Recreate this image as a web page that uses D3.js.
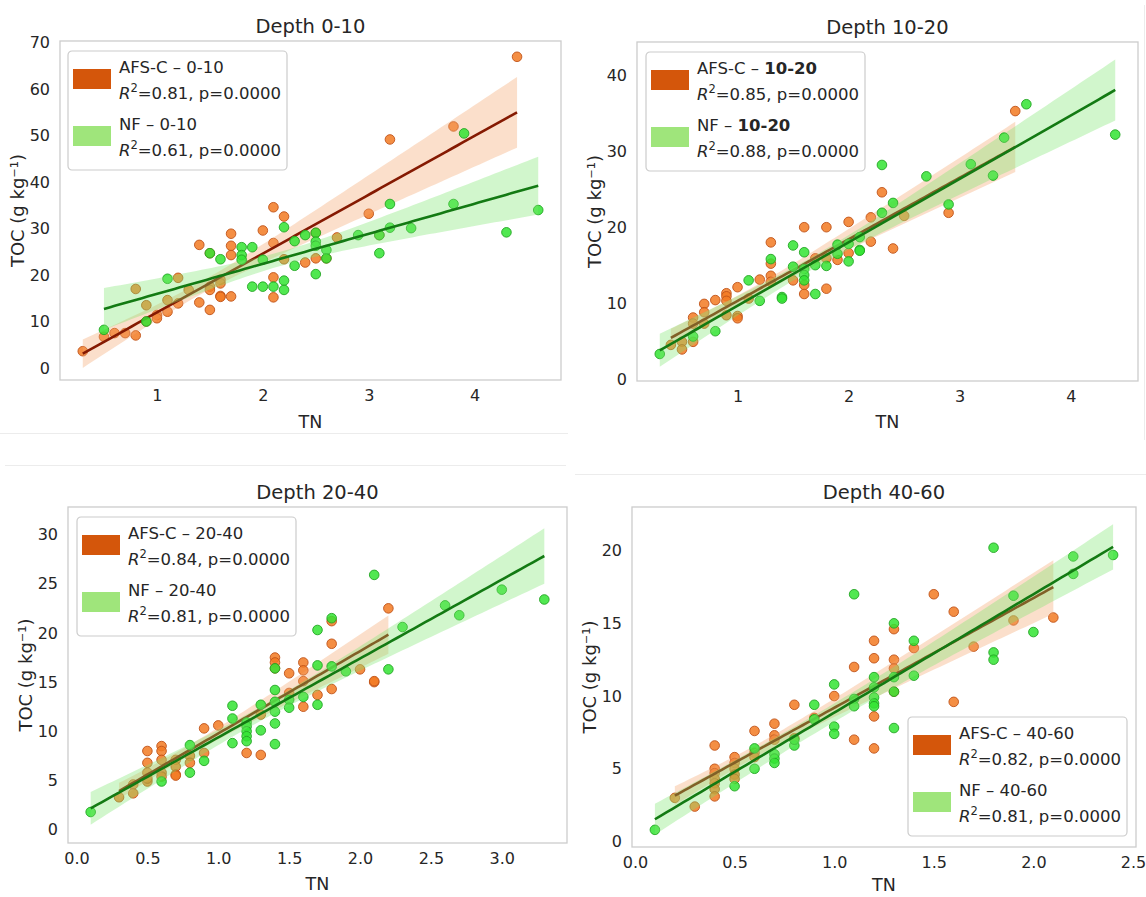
<!DOCTYPE html>
<html><head><meta charset="utf-8">
<script src="https://cdn.jsdelivr.net/npm/d3@7"></script>
<style>
body{margin:0;background:#fff}
svg{display:block}
text{font-family:"DejaVu Sans",sans-serif;fill:#262626}
</style>
</head><body>
<svg id="chart" width="1146" height="897"></svg>
<script>
// ---------- DATA ----------
const titles = ["Depth 0-10", "Depth 10-20", "Depth 20-40", "Depth 40-60"];
const depths = ["0-10", "10-20", "20-40", "40-60"];
const r2AFS = ["0.81", "0.85", "0.84", "0.82"];
const r2NF  = ["0.61", "0.88", "0.81", "0.81"];
const pAFS  = ["0.0000", "0.0000", "0.0000", "0.0000"];
const pNF   = ["0.0000", "0.0000", "0.0000", "0.0000"];

// [TN, TOC] pairs
const afs_0_10 = [[0.3,3.6],[0.5,6.7],[0.6,7.5],[0.7,7.5],[0.8,7.0],[0.8,17.0],[0.9,13.5],[0.9,10.0],[1.0,11.4],[1.0,10.7],[1.1,14.6],[1.1,12.1],[1.2,19.4],[1.2,13.9],[1.3,16.8],[1.4,26.5],[1.4,14.1],[1.5,24.7],[1.5,17.5],[1.5,16.8],[1.5,12.5],[1.6,19.0],[1.6,18.2],[1.6,15.5],[1.6,15.3],[1.7,28.9],[1.7,26.3],[1.7,24.3],[1.7,15.4],[2.0,29.6],[2.1,34.6],[2.1,26.9],[2.1,19.5],[2.1,15.2],[2.2,32.6],[2.2,23.4],[2.4,22.7],[2.5,29.1],[2.5,23.6],[2.6,23.6],[2.7,28.1],[3.0,33.2],[3.1,28.6],[3.2,49.2],[3.8,52.0],[4.4,67.0]];
const nf_0_10 = [[0.5,8.2],[0.9,10.0],[1.1,19.2],[1.5,24.7],[1.6,23.4],[1.8,26.0],[1.8,24.3],[1.8,23.3],[1.9,26.0],[1.9,17.5],[2.0,23.3],[2.0,17.5],[2.1,17.5],[2.2,30.3],[2.2,18.8],[2.2,16.8],[2.3,27.3],[2.3,22.0],[2.4,28.6],[2.5,29.1],[2.5,27.2],[2.5,26.3],[2.5,20.2],[2.6,25.4],[2.6,23.6],[2.9,28.6],[3.1,28.6],[3.1,24.7],[3.2,35.3],[3.2,30.2],[3.4,30.1],[3.8,35.3],[3.9,50.5],[4.3,29.2],[4.6,34.0]];

const afs_10_20 = [[0.4,4.5],[0.5,4.9],[0.5,3.9],[0.6,8.1],[0.6,7.3],[0.6,4.9],[0.7,9.9],[0.7,8.8],[0.7,7.3],[0.8,10.4],[0.9,11.3],[0.9,10.9],[0.9,10.3],[0.9,8.4],[1.0,12.1],[1.0,8.3],[1.0,8.0],[1.1,10.6],[1.2,13.1],[1.3,18.0],[1.3,15.2],[1.3,13.6],[1.3,12.8],[1.5,13.0],[1.6,20.0],[1.6,12.4],[1.6,11.2],[1.7,15.9],[1.8,20.0],[1.8,15.9],[1.8,11.9],[1.9,15.7],[2.0,20.7],[2.0,16.6],[2.2,21.3],[2.2,18.1],[2.3,24.6],[2.4,17.2],[2.5,21.5],[2.9,21.9],[3.5,35.3]];
const nf_10_20 = [[0.3,3.3],[0.6,5.6],[0.8,6.3],[1.1,13.0],[1.2,10.3],[1.3,15.8],[1.4,10.8],[1.4,10.6],[1.5,17.6],[1.5,14.8],[1.6,16.7],[1.6,14.5],[1.6,13.7],[1.6,13.0],[1.7,15.0],[1.7,11.2],[1.8,14.9],[1.9,17.7],[1.9,16.5],[2.0,17.8],[2.0,15.5],[2.1,18.7],[2.1,17.0],[2.1,16.9],[2.3,28.2],[2.3,21.9],[2.4,23.2],[2.7,26.7],[2.9,23.0],[3.1,28.3],[3.3,26.8],[3.4,31.8],[3.6,36.2],[4.4,32.2]];

const afs_20_40 = [[0.3,3.3],[0.4,4.6],[0.4,3.7],[0.5,8.0],[0.5,6.8],[0.5,5.8],[0.5,4.9],[0.5,5.2],[0.6,8.5],[0.6,8.0],[0.6,7.1],[0.6,5.8],[0.6,5.4],[0.7,7.1],[0.7,6.4],[0.7,5.6],[0.7,5.5],[0.8,7.5],[0.8,6.8],[0.9,10.3],[0.9,7.8],[1.0,10.6],[1.2,7.8],[1.3,11.7],[1.3,7.6],[1.4,17.5],[1.4,17.0],[1.4,16.4],[1.5,15.9],[1.5,13.9],[1.6,17.0],[1.6,16.2],[1.6,15.1],[1.6,12.5],[1.7,13.7],[1.8,21.2],[1.8,18.9],[1.8,14.3],[2.0,16.3],[2.1,15.0],[2.1,15.1],[2.2,22.5]];
const nf_20_40 = [[0.1,1.8],[0.6,4.9],[0.8,8.6],[0.8,5.8],[0.9,7.0],[1.1,12.6],[1.1,11.3],[1.1,8.8],[1.2,10.9],[1.2,10.5],[1.2,10.0],[1.2,9.5],[1.2,9.0],[1.3,12.7],[1.3,10.1],[1.4,16.4],[1.4,14.2],[1.4,13.0],[1.4,12.0],[1.4,10.8],[1.4,8.7],[1.5,13.2],[1.5,12.4],[1.6,13.5],[1.7,20.3],[1.7,16.7],[1.7,12.7],[1.8,21.5],[1.8,16.6],[1.9,16.1],[2.1,25.9],[2.2,16.3],[2.3,20.6],[2.6,22.8],[2.7,21.8],[3.0,24.4],[3.3,23.4]];

const afs_40_60 = [[0.2,3.0],[0.3,2.4],[0.4,6.6],[0.4,5.0],[0.4,4.7],[0.4,4.3],[0.4,4.0],[0.4,3.6],[0.4,3.1],[0.5,5.8],[0.5,5.4],[0.5,5.0],[0.5,4.6],[0.5,4.3],[0.6,7.6],[0.6,6.1],[0.6,5.8],[0.7,8.1],[0.7,7.3],[0.7,7.0],[0.8,9.4],[0.8,7.1],[0.9,8.5],[1.0,10.0],[1.1,12.0],[1.1,7.0],[1.2,13.8],[1.2,12.6],[1.2,8.6],[1.2,6.4],[1.3,14.6],[1.3,12.5],[1.3,11.9],[1.3,10.3],[1.4,13.3],[1.5,17.0],[1.6,15.8],[1.6,9.6],[1.7,13.4],[1.9,15.2],[2.1,15.4]];
const nf_40_60 = [[0.1,0.8],[0.5,3.8],[0.6,6.4],[0.6,5.0],[0.7,6.0],[0.7,5.7],[0.7,5.4],[0.8,6.6],[0.8,7.0],[0.9,9.4],[0.9,8.4],[1.0,10.8],[1.0,7.9],[1.0,7.4],[1.1,17.0],[1.1,9.8],[1.1,9.3],[1.2,11.3],[1.2,10.6],[1.2,9.9],[1.2,9.5],[1.2,9.3],[1.3,15.0],[1.3,11.3],[1.3,10.3],[1.3,7.8],[1.4,13.8],[1.4,11.4],[1.8,20.2],[1.8,13.0],[1.8,12.5],[1.9,16.9],[2.0,14.4],[2.2,19.6],[2.2,18.4],[2.4,19.7]];

const xTicks = [[1,2,3,4],[1,2,3,4],[0,0.5,1,1.5,2,2.5,3],[0,0.5,1,1.5,2,2.5]];
const yTicks = [[0,10,20,30,40,50,60,70],[0,10,20,30,40],[0,5,10,15,20,25,30],[0,5,10,15,20]];
const xFormats = ["d","d",".1f",".1f"];
const xDomains = [[0.085,4.815],[0.095,4.605],[-0.06,3.46],[-0.015,2.515]];
const yDomains = [[-2.6,70.4],[-0.26,44.4],[-1.35,32.8],[-0.38,23.0]];

// ---------- LAYOUT / STYLE ----------
const panelBoxes = [
  {l:60, t:41, r:561, b:380, lg:[68,51], xl:48},
  {l:637, t:42, r:1138, b:381, lg:[646,52], xl:47},
  {l:68, t:507, r:567, b:843, lg:[77,517], xl:47},
  {l:632, t:507, r:1136, b:847, lg:[908,717], xl:44}
];
const seriesData = [[afs_0_10,nf_0_10],[afs_10_20,nf_10_20],[afs_20_40,nf_20_40],[afs_40_60,nf_40_60]];
const sty = {
  afs:{fill:"#f27a22", stroke:"#c0531a", band:"#f4a46a", line:"#851a02", patch:"#d4560b"},
  nf:{fill:"#33e433", stroke:"#23a523", band:"#7be56e", line:"#137a13", patch:"#9fe57b"}
};

const svg = d3.select("#chart");

// faint image borders seen in the reference
svg.append("g").attr("stroke","#ececec").attr("stroke-width",1).call(g=>{
  g.append("line").attr("x1",1144.5).attr("x2",1144.5).attr("y1",5).attr("y2",440);
  g.append("line").attr("x1",5).attr("x2",566).attr("y1",465.5).attr("y2",465.5);
  g.append("line").attr("x1",575).attr("x2",1146).attr("y1",474.5).attr("y2",474.5);
  g.append("line").attr("x1",0).attr("x2",568).attr("y1",433.5).attr("y2",433.5);
});

function fit(pts){
  const n = pts.length;
  const xm = d3.mean(pts, d=>d[0]), ym = d3.mean(pts, d=>d[1]);
  let suu=0, suy=0;
  pts.forEach(([x,y])=>{suu+=(x-xm)*(x-xm); suy+=(x-xm)*(y-ym);});
  const b = suy/suu;
  let s0=0,s1=0,s2=0;
  pts.forEach(([x,y])=>{const u=x-xm, e=y-(ym+b*u); s0+=e*e; s1+=e*e*u; s2+=e*e*u*u;});
  const [x0,x1] = d3.extent(pts, d=>d[0]);
  const steps = 80;
  return d3.range(steps+1).map(i=>{
    const x = x0 + (x1-x0)*i/steps, u = x-xm;
    const v = s0/(n*n) + 2*u*s1/(n*suu) + u*u*s2/(suu*suu);
    const h = 1.96*Math.sqrt(v*n/(n-2));
    const y = ym + b*u;
    return {x, y, lo:y-h, hi:y+h};
  });
}

panelBoxes.forEach((P, i)=>{
  const x = d3.scaleLinear().domain(xDomains[i]).range([P.l, P.r]);
  const y = d3.scaleLinear().domain(yDomains[i]).range([P.b, P.t]);
  const g = svg.append("g");
  const cx = (P.l+P.r)/2, cy = (P.t+P.b)/2;

  // frame
  g.append("rect").attr("x",P.l).attr("y",P.t).attr("width",P.r-P.l).attr("height",P.b-P.t)
    .attr("fill","#fff").attr("stroke","#cccccc").attr("stroke-width",1.3);

  const clip = "clip"+i;
  svg.append("clipPath").attr("id",clip).append("rect")
    .attr("x",P.l).attr("y",P.t).attr("width",P.r-P.l).attr("height",P.b-P.t);
  const pg = g.append("g").attr("clip-path",`url(#${clip})`);

  const keys = ["afs","nf"];
  seriesData[i].forEach((pts, k)=>{
    const s = sty[keys[k]];
    pg.append("g").selectAll("circle").data(pts).join("circle")
      .attr("cx", d=>x(d[0])).attr("cy", d=>y(d[1])).attr("r",4.8)
      .attr("fill", s.fill).attr("fill-opacity",0.85)
      .attr("stroke", s.stroke).attr("stroke-width",1).attr("stroke-opacity",0.9);
    const f = fit(pts);
    pg.append("path").datum(f)
      .attr("d", d3.area().x(d=>x(d.x)).y0(d=>y(d.lo)).y1(d=>y(d.hi)))
      .attr("fill", s.band).attr("fill-opacity",0.35);
    pg.append("path").datum(f)
      .attr("d", d3.line().x(d=>x(d.x)).y(d=>y(d.y)))
      .attr("fill","none").attr("stroke", s.line).attr("stroke-width",2.6);
  });

  // axes
  const xa = d3.axisBottom(x).tickValues(xTicks[i]).tickFormat(d3.format(xFormats[i])).tickSize(0).tickPadding(10);
  const ya = d3.axisLeft(y).tickValues(yTicks[i]).tickFormat(d3.format("d")).tickSize(0).tickPadding(10);
  const gx = g.append("g").attr("transform",`translate(0,${P.b})`).call(xa);
  const gy = g.append("g").attr("transform",`translate(${P.l},0)`).call(ya);
  [gx,gy].forEach(a=>{
    a.select(".domain").remove();
    a.selectAll("text").attr("font-size",16).attr("font-family","DejaVu Sans").attr("fill","#262626");
  });

  // titles & labels
  g.append("text").attr("x",cx).attr("y",P.t-8).attr("text-anchor","middle")
    .attr("font-size",19.5).attr("fill","#1a1a1a").text(titles[i]);
  g.append("text").attr("x",cx).attr("y",P.b+P.xl).attr("text-anchor","middle")
    .attr("font-size",17.5).text("TN");
  g.append("text").attr("transform",`translate(${P.l-36},${cy}) rotate(-90)`)
    .attr("text-anchor","middle").attr("font-size",18).text("TOC (g kg⁻¹)");

  // legend
  const [lx, ly] = P.lg;
  const lg = g.append("g").attr("transform",`translate(${lx},${ly})`);
  lg.append("rect").attr("width",219).attr("height",119).attr("rx",4)
    .attr("fill","#fff").attr("fill-opacity",0.85).attr("stroke","#cccccc").attr("stroke-width",1.2);
  const entries = [
    {name:"AFS-C", r2:r2AFS[i], p:pAFS[i], s:sty.afs},
    {name:"NF", r2:r2NF[i], p:pNF[i], s:sty.nf}
  ];
  entries.forEach((e, k)=>{
    const oy = k*57;
    lg.append("rect").attr("x",5).attr("y",oy+18).attr("width",38).attr("height",20).attr("fill",e.s.patch);
    const t1 = lg.append("text").attr("x",51).attr("y",oy+22).attr("font-size",16.5);
    t1.append("tspan").text(`${e.name} – `);
    t1.append("tspan").attr("font-weight", i===1 ? "bold" : "normal").text(depths[i]);
    const t2 = lg.append("text").attr("x",51).attr("y",oy+47.5).attr("font-size",16.5);
    t2.append("tspan").attr("font-style","italic").text("R");
    t2.append("tspan").attr("font-size",11.5).attr("dy",-7).text("2");
    t2.append("tspan").attr("dy",7).text(`=${e.r2}, p=${e.p}`);
  });
});
</script>
</body></html>
